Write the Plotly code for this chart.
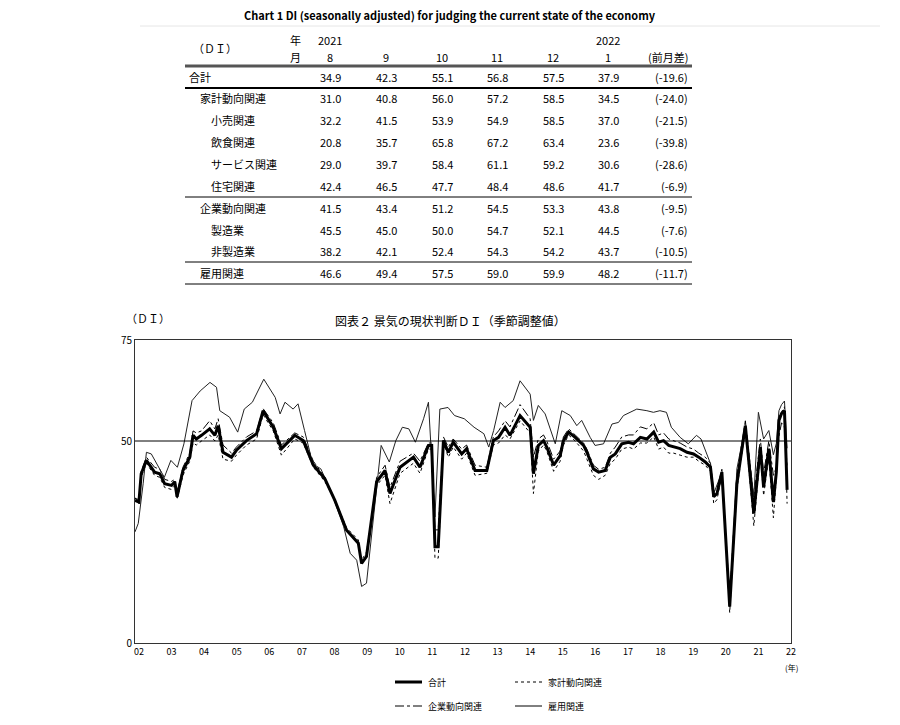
import plotly.graph_objects as go

# ---------------- data ----------------
years = [2002.00,2002.12,2002.19,2002.35,2002.60,2002.76,2002.91,2003.12,2003.22,2003.29,
         2003.47,2003.68,2003.78,2003.88,2004.04,2004.29,2004.45,2004.55,2004.70,2004.96,
         2005.11,2005.42,2005.73,2005.93,2006.24,2006.49,2006.90,2007.16,2007.47,2007.82,
         2008.13,2008.49,2008.85,2008.95,2009.10,2009.41,2009.67,2009.82,2010.13,2010.54,
         2010.74,2011.00,2011.10,2011.20,2011.30,2011.46,2011.61,2011.76,2012.02,2012.17,
         2012.43,2012.79,2012.99,2013.15,2013.35,2013.50,2013.81,2014.12,2014.22,2014.37,
         2014.53,2014.63,2014.84,2015.04,2015.14,2015.30,2015.50,2015.76,2015.86,2016.06,
         2016.22,2016.42,2016.58,2016.73,2016.93,2017.14,2017.29,2017.50,2017.70,2017.91,
         2018.06,2018.21,2018.37,2018.52,2018.72,2018.93,2019.13,2019.29,2019.49,2019.65,
         2019.75,2019.85,2020.00,2020.24,2020.46,2020.72,2020.98,2021.18,2021.28,2021.44,
         2021.58,2021.67,2021.75,2021.83,2021.92,2022.00]
total = [35.3,34.9,41.9,45.2,42.3,41.9,39.4,39.0,39.9,36.2,
         42.7,46.0,51.4,50.5,51.4,53.0,51.4,53.8,47.2,46.0,
         47.7,50.1,51.8,57.5,53.4,48.1,51.4,50.1,44.0,40.7,
         35.3,27.9,24.7,19.7,21.4,39.9,42.7,37.0,43.5,46.0,
         43.5,48.9,48.9,23.8,23.8,50.1,47.2,49.7,46.8,48.1,
         42.7,42.7,50.1,50.9,53.4,51.4,56.3,53.4,41.9,48.9,
         50.1,48.5,44.0,46.4,50.1,52.2,50.9,48.9,47.2,43.1,
         42.3,42.7,46.0,46.8,49.3,49.7,49.3,50.9,50.5,52.2,
         49.7,50.1,48.9,48.5,48.1,47.2,46.8,46.0,44.8,43.5,
         36.2,37.0,42.3,9.0,39.4,53.8,32.0,48.5,38.6,48.1,
         34.9,42.3,55.1,56.8,57.5,37.9]
household = [36.0,34.5,41.0,44.5,41.5,41.0,38.5,38.0,39.0,35.5,
             41.5,45.0,49.5,49.0,50.0,51.5,50.0,51.5,45.5,45.0,
             46.5,49.0,50.5,56.5,52.5,46.5,50.5,49.5,43.5,40.0,
             35.5,28.5,25.5,20.5,22.5,39.0,41.5,34.5,42.0,44.5,
             42.0,48.0,48.0,21.0,21.0,49.5,46.0,48.5,45.5,47.0,
             41.5,42.0,49.0,49.5,51.5,50.5,55.0,52.0,37.0,47.5,
             49.0,47.5,42.5,45.0,49.0,51.5,50.0,47.5,45.5,41.5,
             40.5,41.5,44.5,45.5,48.0,48.5,48.0,49.5,49.5,51.0,
             48.0,48.5,47.0,47.0,46.5,46.0,46.0,45.0,44.0,42.5,
             34.5,35.5,41.5,7.5,38.0,53.0,29.0,47.0,36.5,46.0,
             31.0,40.8,56.0,57.2,58.5,34.5]
business = [35.8,35.5,42.5,46.0,43.5,43.0,40.5,40.0,40.5,37.0,
            43.5,47.0,52.5,52.0,52.5,55.0,53.0,55.5,49.0,47.0,
            48.5,51.0,52.5,58.0,54.5,49.0,52.0,51.0,45.0,41.0,
            35.0,28.0,24.5,20.0,21.0,41.0,44.0,38.5,45.0,47.0,
            45.0,49.5,49.5,28.0,28.0,51.0,48.5,50.5,48.0,49.0,
            44.0,43.5,51.0,52.5,55.0,53.5,59.0,55.5,46.0,50.5,
            51.5,50.0,45.5,47.5,51.0,53.0,51.5,49.5,48.0,44.0,
            43.0,43.5,47.0,48.5,51.0,51.5,51.5,53.5,53.0,54.5,
            51.5,52.0,50.5,50.0,49.5,48.5,48.0,47.0,46.0,44.5,
            37.5,38.0,43.0,11.0,41.5,55.0,36.0,50.5,42.0,50.0,
            41.5,43.4,51.2,54.5,53.3,43.8]
emp_years = [2002.0,2002.1,2002.25,2002.35,2002.5,2002.9,2003.1,2003.3,2003.5,2003.75,
             2004.0,2004.3,2004.5,2004.6,2004.9,2005.15,2005.35,2005.6,2005.95,2006.3,
             2006.45,2006.6,2006.85,2007.0,2007.2,2007.45,2007.7,2008.0,2008.4,2008.6,
             2008.8,2008.95,2009.1,2009.35,2009.55,2009.8,2010.0,2010.2,2010.4,2010.6,
             2010.85,2011.0,2011.2,2011.35,2011.6,2011.8,2012.1,2012.4,2012.7,2012.85,
             2013.0,2013.2,2013.35,2013.6,2013.81,2014.12,2014.22,2014.37,2014.58,2014.89,
             2015.09,2015.35,2015.55,2015.7,2015.96,2016.11,2016.37,2016.63,2016.83,2016.98,
             2017.39,2017.7,2017.9,2018.1,2018.3,2018.45,2018.72,2018.97,2019.22,2019.36,
             2019.65,2019.75,2020.0,2020.24,2020.46,2020.72,2020.98,2021.12,2021.28,2021.44,
             2021.58,2021.67,2021.75,2021.83,2021.92,2022.0]
employment = [27.5,29.6,39.4,47.2,46.8,41.0,45.2,43.5,49.3,60.0,
              62.4,64.5,63.3,57.5,55.9,52.2,57.9,59.6,65.3,60.8,
              56.7,59.6,57.9,59.2,52.6,44.4,43.1,37.8,28.8,22.2,
              20.5,14.0,14.8,33.7,48.9,44.8,50.1,53.4,53.0,49.7,
              55.5,59.6,31.2,57.9,58.3,56.3,55.5,53.4,51.8,48.5,
              52.6,59.6,58.3,60.0,64.9,61.6,55.1,58.8,56.7,49.3,
              57.5,56.3,53.8,55.1,50.9,48.9,49.3,54.2,54.6,56.3,
              57.9,57.5,57.1,57.5,57.1,53.4,50.9,49.3,51.4,50.5,
              44.4,37.0,42.3,9.0,43.1,53.8,36.2,57.1,50.5,52.6,
              46.6,49.4,57.5,59.0,59.9,48.2]

year_ticks = list(range(2002, 2023))
year_labels = [f"{y % 100:02d}" for y in year_ticks]

# table
tbl_rows = ["合計", "家計動向関連", "小売関連", "飲食関連", "サービス関連", "住宅関連",
            "企業動向関連", "製造業", "非製造業", "雇用関連"]
tbl_indent = [0, 1, 2, 2, 2, 2, 1, 2, 2, 1]
tbl_months = ["8", "9", "10", "11", "12", "1"]
tbl_vals = [
    [34.9, 42.3, 55.1, 56.8, 57.5, 37.9],
    [31.0, 40.8, 56.0, 57.2, 58.5, 34.5],
    [32.2, 41.5, 53.9, 54.9, 58.5, 37.0],
    [20.8, 35.7, 65.8, 67.2, 63.4, 23.6],
    [29.0, 39.7, 58.4, 61.1, 59.2, 30.6],
    [42.4, 46.5, 47.7, 48.4, 48.6, 41.7],
    [41.5, 43.4, 51.2, 54.5, 53.3, 43.8],
    [45.5, 45.0, 50.0, 54.7, 52.1, 44.5],
    [38.2, 42.1, 52.4, 54.3, 54.2, 43.7],
    [46.6, 49.4, 57.5, 59.0, 59.9, 48.2],
]
tbl_diff = ["(-19.6)", "(-24.0)", "(-21.5)", "(-39.8)", "(-28.6)", "(-6.9)",
            "(-9.5)", "(-7.6)", "(-10.5)", "(-11.7)"]

# ---------------- figure ----------------
OFF = 8  # page body margin
W, H = 900 - OFF, 725 - OFF
L, R, T, B = 135 - OFF, 791 - OFF, 340 - OFF, 643 - OFF
def px(x): return (x - OFF - L) / (R - L)
def py(y): return (B - (y - OFF)) / (B - T)

FONT = "Noto Sans CJK JP"
fig = go.Figure()
fig.add_trace(go.Scatter(x=years, y=household, mode="lines", line=dict(color="black", width=1, dash="dot")))
fig.add_trace(go.Scatter(x=years, y=business, mode="lines", line=dict(color="black", width=1, dash="dashdot")))
fig.add_trace(go.Scatter(x=emp_years, y=employment, mode="lines", line=dict(color="#222", width=1)))
fig.add_trace(go.Scatter(x=years, y=total, mode="lines", line=dict(color="black", width=3)))

shapes = []
ann = []
def text(x, y, s, size=11, anchor="center", bold=False):
    ann.append(dict(x=px(x), y=py(y), xref="paper", yref="paper", text=f"<b>{s}</b>" if bold else s,
                    showarrow=False, xanchor=anchor, yanchor="middle",
                    font=dict(family=FONT, size=size, color="black")))
def hline(x0, x1, y, w=1, color="black", dash="solid"):
    shapes.append(dict(type="line", xref="paper", yref="paper", x0=px(x0), x1=px(x1), y0=py(y), y1=py(y),
                       line=dict(color=color, width=w, dash=dash)))

# title & separator
text(450, 15, "Chart 1 DI (seasonally adjusted) for judging the current state of the economy", 11, bold=True)
hline(140, 880, 26, 1, "#e6e6e6")

# table
col_x = [330, 386, 442, 497, 553, 608]
text(215, 48, "（ＤＩ）", 11)
text(295, 40, "年", 11); text(295, 57, "月", 11)
text(330, 40, "2021", 11); text(608, 40, "2022", 11)
for cx, m in zip(col_x, tbl_months):
    text(cx, 57, m, 11)
text(690, 57, "(前月差)", 11, "right")
hline(185, 692, 66, 3, "#555")
row_y = [77, 98, 120, 142, 164, 186, 208, 230, 251, 273]
for name, ind, vals, d, ry in zip(tbl_rows, tbl_indent, tbl_vals, tbl_diff, row_y):
    text(187 + ind * 11, ry, name, 11, "left")
    for cx, v in zip(col_x, vals):
        text(cx, ry, f"{v:.1f}", 11)
    text(690, ry, d, 11, "right")
hline(185, 692, 88, 2)
hline(185, 692, 197, 1)
hline(185, 692, 262, 1)
hline(185, 692, 284, 1)

# chart labels
text(148, 318, "（ＤＩ）", 11)
text(450, 320, "図表２ 景気の現状判断ＤＩ（季節調整値）", 12)
text(791, 667, "(年)", 8)

# legend
for (x0, y0, lbl, w, dash) in [(395, 682, "合計", 3, "solid"), (515, 682, "家計動向関連", 1, "dot"),
                               (395, 706, "企業動向関連", 1, "dashdot"), (515, 706, "雇用関連", 1, "solid")]:
    hline(x0, x0 + 27, y0, w, "black", dash)
    text(x0 + 31, y0, lbl, 9, "left")

fig.update_layout(
    width=W, height=H, margin=dict(l=L, r=W - R, t=T, b=H - B, autoexpand=False),
    paper_bgcolor="white", plot_bgcolor="white", showlegend=False,
    shapes=shapes, annotations=ann,
    font=dict(family=FONT, size=10, color="black"),
    xaxis=dict(range=[2002.0, 2022.12], tickvals=[y + 0.12 for y in year_ticks], ticktext=year_labels,
               showgrid=False, zeroline=False, showline=True, mirror=True, linecolor="#333", linewidth=1,
               ticks="", tickfont=dict(size=9)),
    yaxis=dict(range=[0, 75], tickvals=[0, 50, 75], showgrid=False, zeroline=False, showline=True, mirror=True,
               linecolor="#333", linewidth=1, ticks="", tickfont=dict(size=10)),
)
fig.add_hline(y=50, line=dict(color="black", width=1))
fig.write_html("out.html")
